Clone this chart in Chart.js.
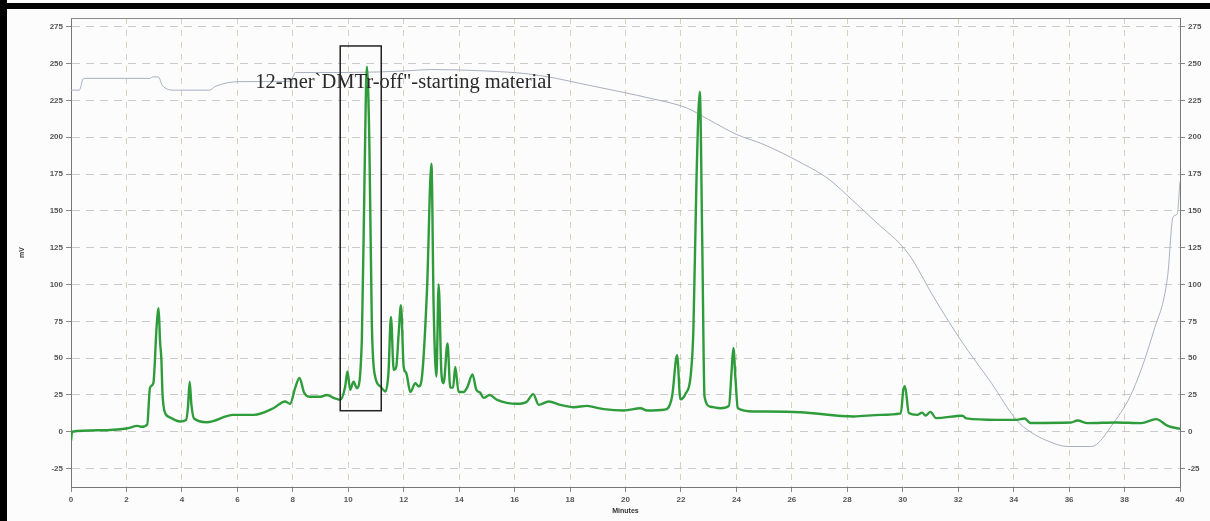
<!DOCTYPE html>
<html lang="en">
<head>
    <meta charset="UTF-8">
    <title>HPLC chromatogram - 12-mer DMTr-off</title>
    <script src="https://cdn.jsdelivr.net/npm/chart.js"></script>
    <style>
        body { margin: 0; background: #fcfcfc; }
    </style>
</head>
<body>
    <canvas id="myChart" width="1210" height="521"></canvas>

    <script>
        // detector trace (mV) vs minutes
        const greenTime = [0, 0.04, 1.0, 2.0, 2.4, 2.55, 2.75, 2.85, 2.97, 3.09, 3.16, 3.21, 3.26, 3.3, 3.39, 3.55, 3.93, 4.15, 4.22, 4.28, 4.34, 4.44, 4.9, 5.85, 6.6, 7.3, 7.72, 7.9, 8.09, 8.24, 8.41, 8.6, 9.0, 9.23, 9.47, 9.71, 9.89, 9.97, 10.07, 10.19, 10.31, 10.49, 10.59, 10.67, 10.76, 10.85, 10.97, 11.16, 11.34, 11.45, 11.54, 11.64, 11.73, 11.82, 11.9, 12.0, 12.09, 12.24, 12.42, 12.54, 12.66, 12.84, 13.0, 13.08, 13.18, 13.26, 13.36, 13.44, 13.58, 13.68, 13.78, 13.86, 13.98, 14.16, 14.3, 14.48, 14.62, 14.76, 14.88, 15.1, 15.37, 16.09, 16.45, 16.67, 16.87, 17.23, 17.65, 18.13, 18.62, 18.86, 19.22, 19.94, 20.54, 20.78, 21.4, 21.68, 21.86, 21.98, 22.17, 22.35, 22.45, 22.56, 22.68, 22.77, 22.85, 23.07, 23.43, 23.73, 23.83, 23.89, 23.97, 24.05, 24.63, 26.3, 28.23, 29.2, 29.93, 30.02, 30.08, 30.22, 30.52, 30.7, 30.82, 31.0, 31.2, 32.15, 32.3, 33.4, 34.1, 34.4, 34.6, 36.07, 36.3, 36.67, 37.69, 38.6, 39.14, 39.56, 40];
        const greenSignal = [-6, 0, 1, 2.2, 4, 3.4, 5, 30, 33, 72, 84, 62, 49, 26, 13, 10, 7, 8, 17, 34, 19, 9, 6.5, 11.5, 11.5, 16, 20.6, 19, 30, 36.6, 26.5, 23.8, 23.8, 25, 23, 21.7, 30.8, 41, 28.5, 34, 29.6, 62, 176, 248, 198, 74, 37.5, 30.8, 27.4, 40, 78, 42, 44, 67, 86, 44, 40, 27, 33, 30.8, 37.5, 96, 182, 85, 37.5, 100, 40, 33, 60, 30, 30, 44, 27, 27, 30.5, 39, 28.5, 26.6, 23, 25, 21.7, 19, 20.6, 25.6, 18.3, 20.6, 18.3, 16.7, 17.6, 16.7, 15.4, 14.5, 16, 14.5, 15, 24, 52, 22, 26, 38, 70, 171, 231, 126, 24, 17, 16, 17.6, 42, 57, 35, 16, 13.8, 13.3, 10.4, 11.5, 12.5, 28.5, 31, 12.7, 11.5, 13, 11, 13.5, 9.3, 10.9, 9.1, 8.1, 8.1, 9, 6, 6.3, 7.7, 5.9, 6.3, 5.9, 8.6, 4, 2];

        // second (gray) channel
        const grayTime = [0, 0.3, 0.45, 2.85, 2.95, 3.15, 3.3, 3.75, 5.0, 5.2, 6.1, 7.9, 8.1, 10, 12, 13, 15, 16.5, 17.5, 18.5, 19.8, 21, 22.2, 23, 24, 25, 26.4, 27.3, 28.2, 29, 30.2, 31.1, 32.1, 33.2, 34.1, 34.6, 35.2, 35.96, 36.8, 37.6, 38.3, 39.06, 39.55, 39.75, 39.9, 40];
        const grayValue = [232, 232, 240, 240, 241, 241, 235, 232, 232, 234.5, 237.8, 238, 244, 244, 245, 246, 245, 243, 240, 236, 231, 226, 220, 212, 202, 195, 182, 172, 157, 143, 121, 92, 62, 33, 8, 0, -6, -10, -10, 6, 28, 69, 105, 146, 148, 170];

        const yTicks = [-25, 0, 25, 50, 75, 100, 125, 150, 175, 200, 225, 250, 275];

        const noteText = '12-mer`DMTr-off"-starting material';
        const noteAt = { x: 6.65, y: 237 };
        const boxRange = { x1: 9.71, x2: 11.19, y1: 14.3, y2: 262 };

        const greenData = greenTime.map((t, i) => ({ x: t, y: greenSignal[i] }));
        const grayData = grayTime.map((t, i) => ({ x: t, y: grayValue[i] }));

        const tickFont = { family: 'Liberation Sans', size: 8, weight: 'bold' };

        const keepTicks = (scale) => {
            scale.ticks = yTicks.map(v => ({ value: v }));
        };

        const frame = {
            id: 'frame',
            beforeDraw(chart) {
                const c = chart.ctx;
                c.save();
                c.fillStyle = '#fcfcfc';
                c.fillRect(0, 0, chart.width, chart.height);
                c.restore();
            },
            afterDatasetsDraw(chart) {
                const c = chart.ctx;
                const a = chart.chartArea;
                const sx = chart.scales.x, sy = chart.scales.y;
                c.save();
                // top frame of plot
                c.strokeStyle = '#8a8a8a';
                c.lineWidth = 1;
                c.beginPath();
                c.moveTo(a.left, a.top + 0.5);
                c.lineTo(a.right, a.top + 0.5);
                c.stroke();
                // annotation box
                c.strokeStyle = '#222';
                c.lineWidth = 1.5;
                const bx = sx.getPixelForValue(boxRange.x1);
                const bx2 = sx.getPixelForValue(boxRange.x2);
                const by = sy.getPixelForValue(boxRange.y2);
                const by2 = sy.getPixelForValue(boxRange.y1);
                c.strokeRect(bx, by, bx2 - bx, by2 - by);
                // label
                c.fillStyle = '#2a2a2a';
                c.font = '20.5px "Liberation Serif"';
                c.textBaseline = 'middle';
                c.fillText(noteText, sx.getPixelForValue(noteAt.x), sy.getPixelForValue(noteAt.y));
                c.restore();
            },
            afterDraw(chart) {
                const c = chart.ctx;
                c.save();
                c.fillStyle = '#000';
                c.fillRect(0, 3, chart.width, 6);
                c.fillRect(0, 0, 7, chart.height);
                c.restore();
            }
        };

        const ctx = document.getElementById('myChart').getContext('2d');
        const myChart = new Chart(ctx, {
            type: 'line',
            data: {
                datasets: [{
                    label: 'mV',
                    data: greenData,
                    borderColor: '#2f9c3c',
                    borderWidth: 2.4,
                    pointRadius: 0,
                    cubicInterpolationMode: 'monotone',
                    order: 1
                }, {
                    label: 'gradient',
                    data: grayData,
                    borderColor: '#a9b0c0',
                    borderWidth: 1,
                    pointRadius: 0,
                    cubicInterpolationMode: 'monotone',
                    order: 2
                }]
            },
            options: {
                responsive: false,
                animation: false,
                layout: { padding: { top: 18, left: 0, right: 0, bottom: 0 } },
                plugins: {
                    legend: { display: false },
                    tooltip: { enabled: false }
                },
                scales: {
                    x: {
                        type: 'linear',
                        min: 0,
                        max: 40,
                        afterFit: (s) => { s.height = 34; },
                        ticks: { stepSize: 2, font: tickFont, color: '#555', padding: 3, maxRotation: 0 },
                        grid: { color: 'rgba(205,200,170,0.8)', tickLength: 5, tickColor: '#888' },
                        border: { color: '#777', dash: [6, 6] },
                        title: {
                            display: true,
                            text: 'Minutes',
                            font: { family: 'Liberation Sans', size: 7, weight: 'bold' },
                            color: '#333',
                            padding: { top: 0, bottom: 6 }
                        }
                    },
                    y: {
                        min: -37.5,
                        max: 281,
                        afterBuildTicks: keepTicks,
                        afterFit: (s) => { s.width = 71; },
                        ticks: { font: tickFont, color: '#555', padding: 3 },
                        grid: { color: 'rgba(190,190,190,0.8)', tickLength: 5, tickColor: '#888' },
                        border: { color: '#777', dash: [8, 6] },
                        title: {
                            display: true,
                            text: 'mV',
                            font: { family: 'Liberation Sans', size: 7, weight: 'bold' },
                            color: '#333',
                            padding: { top: 18, bottom: 0 }
                        }
                    },
                    y2: {
                        position: 'right',
                        min: -37.5,
                        max: 281,
                        afterBuildTicks: keepTicks,
                        afterFit: (s) => { s.width = 30; },
                        ticks: { font: tickFont, color: '#555', padding: 3 },
                        grid: { drawOnChartArea: false, tickLength: 5, tickColor: '#888' },
                        border: { color: '#777' }
                    }
                }
            },
            plugins: [frame]
        });
    </script>
</body>
</html>
